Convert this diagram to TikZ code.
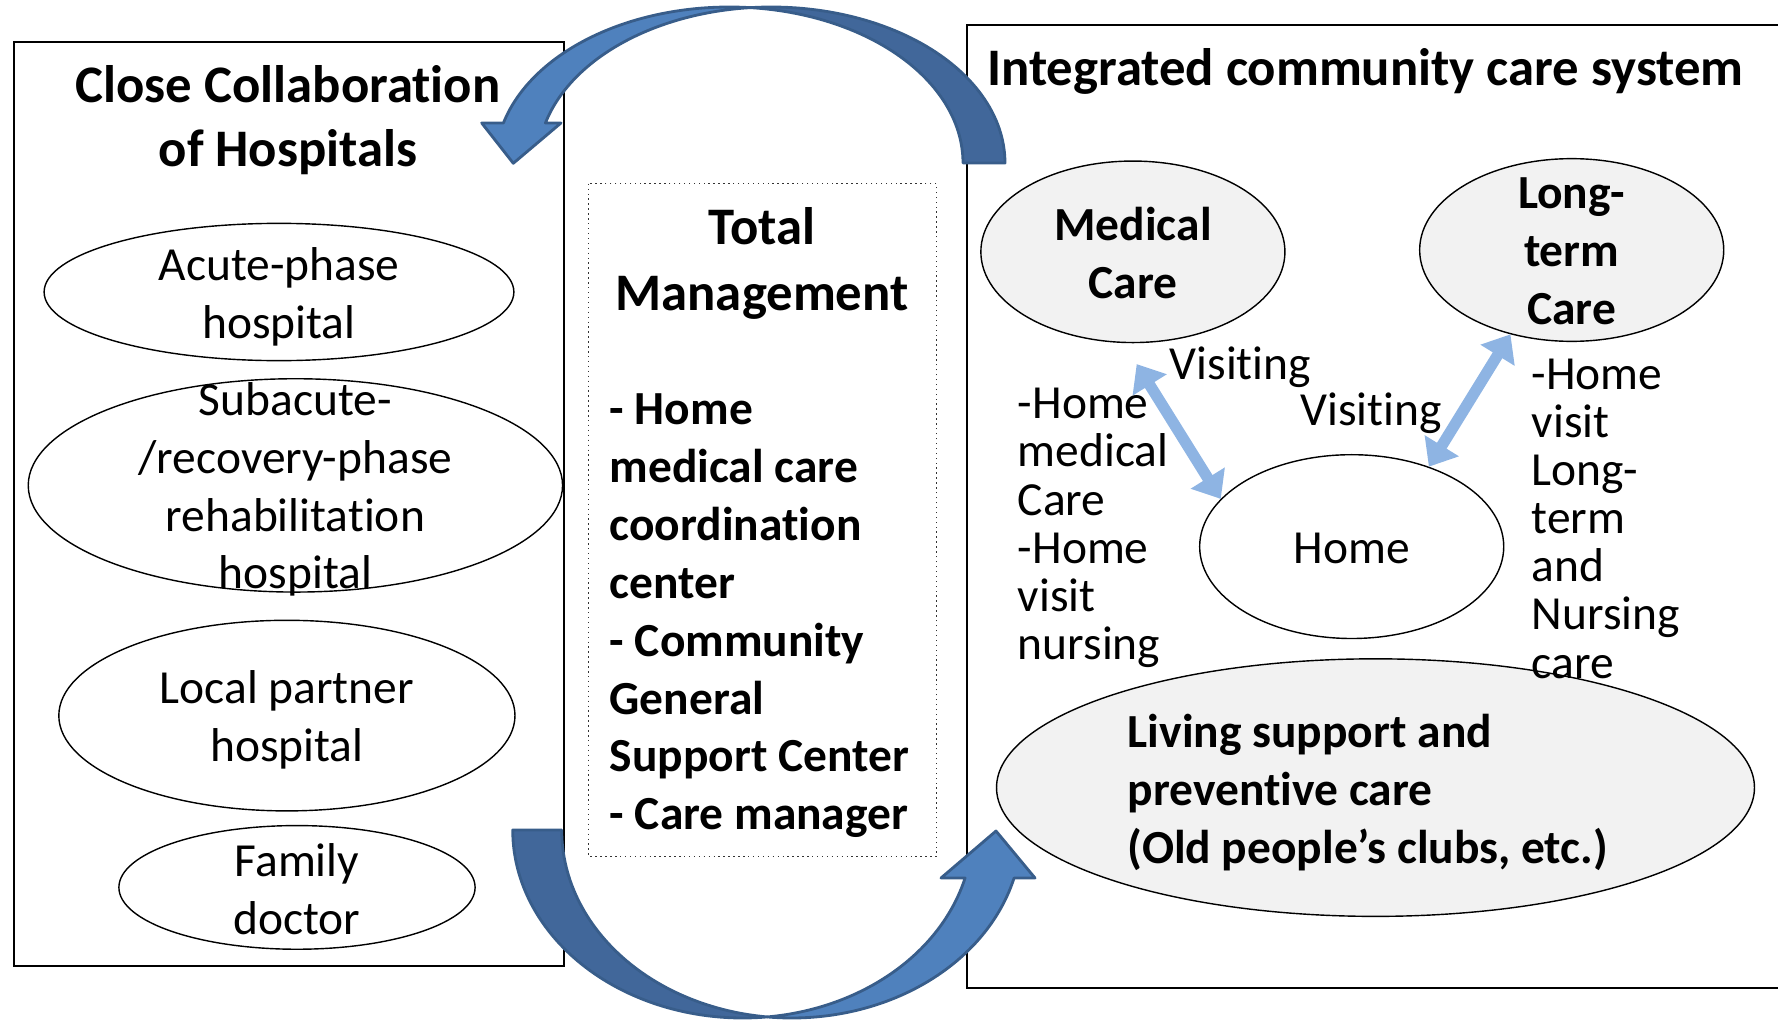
\documentclass[tikz,border=0pt]{standalone}
\usepackage{fontspec}
\setmainfont{Carlito}[Ligatures=NoCommon]
\usetikzlibrary{arrows.meta,calc,shapes.geometric}
\definecolor{arrowlight}{HTML}{4F81BD}
\definecolor{arrowdark}{HTML}{41679A}
\definecolor{arrowedge}{HTML}{385D8A}
\definecolor{visitblue}{HTML}{8EB4E3}
\definecolor{ovalgray}{HTML}{F2F2F2}
\begin{document}
\begin{tikzpicture}[x=0.01cm, y=-0.01cm,
  frame/.style={draw=black, line width=0.6pt},
  dotbox/.style={draw=black!80, line width=0.4pt, densely dotted},
  oval/.style={ellipse, draw=black, line width=0.4pt, inner sep=0pt, fill=white},
  grayoval/.style={oval, fill=ovalgray},
  body/.style={inner sep=0pt, align=center, font=\fontsize{13.5}{16.45}\selectfont},
  boldbody/.style={body, font=\fontsize{13.5}{16.45}\selectfont\bfseries},
  note/.style={inner sep=0pt, align=left, anchor=west, font=\fontsize{13.5}{13.7}\selectfont},
  heading/.style={inner sep=0pt, align=center, font=\fontsize{15}{18.2}\selectfont\bfseries},
  band/.style={line width=0.8pt, draw=arrowedge, line join=round},
  visit/.style={draw=visitblue, line width=3.2pt,
    {Triangle[length=7pt,width=11pt]}-{Triangle[length=7pt,width=11pt]}}
]
\useasboundingbox (0,0) rectangle (1778,1021);

% frames
\draw[frame] (13.6,42) rectangle (563.6,966);
\draw[frame] (1785,25) -- (966.7,25) -- (966.7,988) -- (1785,988);
\draw[dotbox] (588.5,183.7) rectangle (936.7,856.2);

% left column: hospitals
\node[heading] (lefttitle) at (288,120) {Close Collaboration\\of Hospitals};
\node[oval, minimum width=4.695cm, minimum height=1.372cm] (acute) at (279,292) {};
\node[body] (acutetxt) at (279,297) {Acute-phase\\hospital};
\node[oval, minimum width=5.34cm, minimum height=2.132cm] (subacute) at (295.4,485.4) {};
\node[body] (subacutetxt) at (295.4,489.5) {Subacute-\\/recovery-phase\\rehabilitation\\hospital};
\node[oval, minimum width=4.559cm, minimum height=1.905cm] (local) at (286.9,715.6) {};
\node[body] (localtxt) at (286.9,720) {Local partner\\hospital};
\node[oval, minimum width=3.56cm, minimum height=1.236cm] (family) at (297,887.4) {};
\node[body] (familytxt) at (297,889) {Family\\doctor};

% middle column
\node[heading, font=\fontsize{15}{18.7}\selectfont\bfseries] (tmtitle) at (762,263.5) {Total\\Management};
\node[boldbody, align=left, anchor=west] (tmlist) at (609,616)
  {- Home\\medical care\\coordination\\center\\- Community\\General\\Support Center\\- Care manager};

% right column: community care
\node[heading, anchor=west] (righttitle) at (986.6,71.5) {Integrated community care system};
\node[grayoval, minimum width=3.039cm, minimum height=1.814cm] (med) at (1132.9,251.8) {};
\node[boldbody] (medtxt) at (1133,253) {Medical\\Care};
\node[grayoval, minimum width=3.039cm, minimum height=1.826cm] (ltc) at (1571.7,250) {};
\node[boldbody] (ltctxt) at (1571.7,251.5) {Long-\\term\\Care};
\node[oval, minimum width=3.039cm, minimum height=1.837cm] (home) at (1351.7,546.6) {};
\node[body] (hometxt) at (1351.7,548.5) {Home};
\node[grayoval, minimum width=7.575cm, minimum height=2.574cm] (living) at (1375.5,787.6) {};
\node[boldbody, align=left, anchor=west] (livingtxt) at (1127.2,792.5)
  {Living support and\\preventive care\\(Old people’s clubs, etc.)};

\node[note] (medvisit) at (1017.2,528) {-Home\\medical\\Care\\-Home\\visit\\nursing};
\node[note] (visitA) at (1169,367.5) {Visiting};
\node[note] (visitB) at (1299.6,413) {Visiting};
\node[note] (ltcvisit) at (1531,518.5) {-Home\\visit\\Long-\\term\\and\\Nursing\\care};

\draw[visit] ($(med.south)+(3.8,20.8)$) -- (home.160);
\draw[visit] (ltc.234) -- (home.46);

% upper curved arrow: back band (tail side) then front band with head
\path[band, fill=arrowdark]
  plot[domain=360:264.77, samples=60, variable=\t] ({771.3+233.7*cos(\t)},{163+156*sin(\t)})
  -- plot[domain=275.08:360, samples=60, variable=\t] ({729.3+233.7*cos(\t)},{163+156*sin(\t)})
  -- cycle;
\path[band, fill=arrowlight]
  plot[domain=194.86:275.08, samples=60, variable=\t] ({729.3+233.7*cos(\t)},{163+156*sin(\t)})
  -- plot[domain=264.77:194.86, samples=60, variable=\t] ({771.3+233.7*cos(\t)},{163+156*sin(\t)})
  -- (561,123) -- (513.3,163.3) -- (481.7,123) -- cycle;

% lower curved arrow
\path[band, fill=arrowdark]
  plot[domain=180:83.89, samples=60, variable=\t] ({742.7+230*cos(\t)},{830+188*sin(\t)})
  -- plot[domain=96.11:180, samples=60, variable=\t] ({791.7+230*cos(\t)},{830+188*sin(\t)})
  -- cycle;
\path[band, fill=arrowlight]
  plot[domain=96.11:14.79, samples=60, variable=\t] ({791.7+230*cos(\t)},{830+188*sin(\t)})
  -- (1035,878) -- (996,831) -- (941,878)
  -- plot[domain=14.79:83.89, samples=60, variable=\t] ({742.7+230*cos(\t)},{830+188*sin(\t)})
  -- cycle;
\end{tikzpicture}
\end{document}
